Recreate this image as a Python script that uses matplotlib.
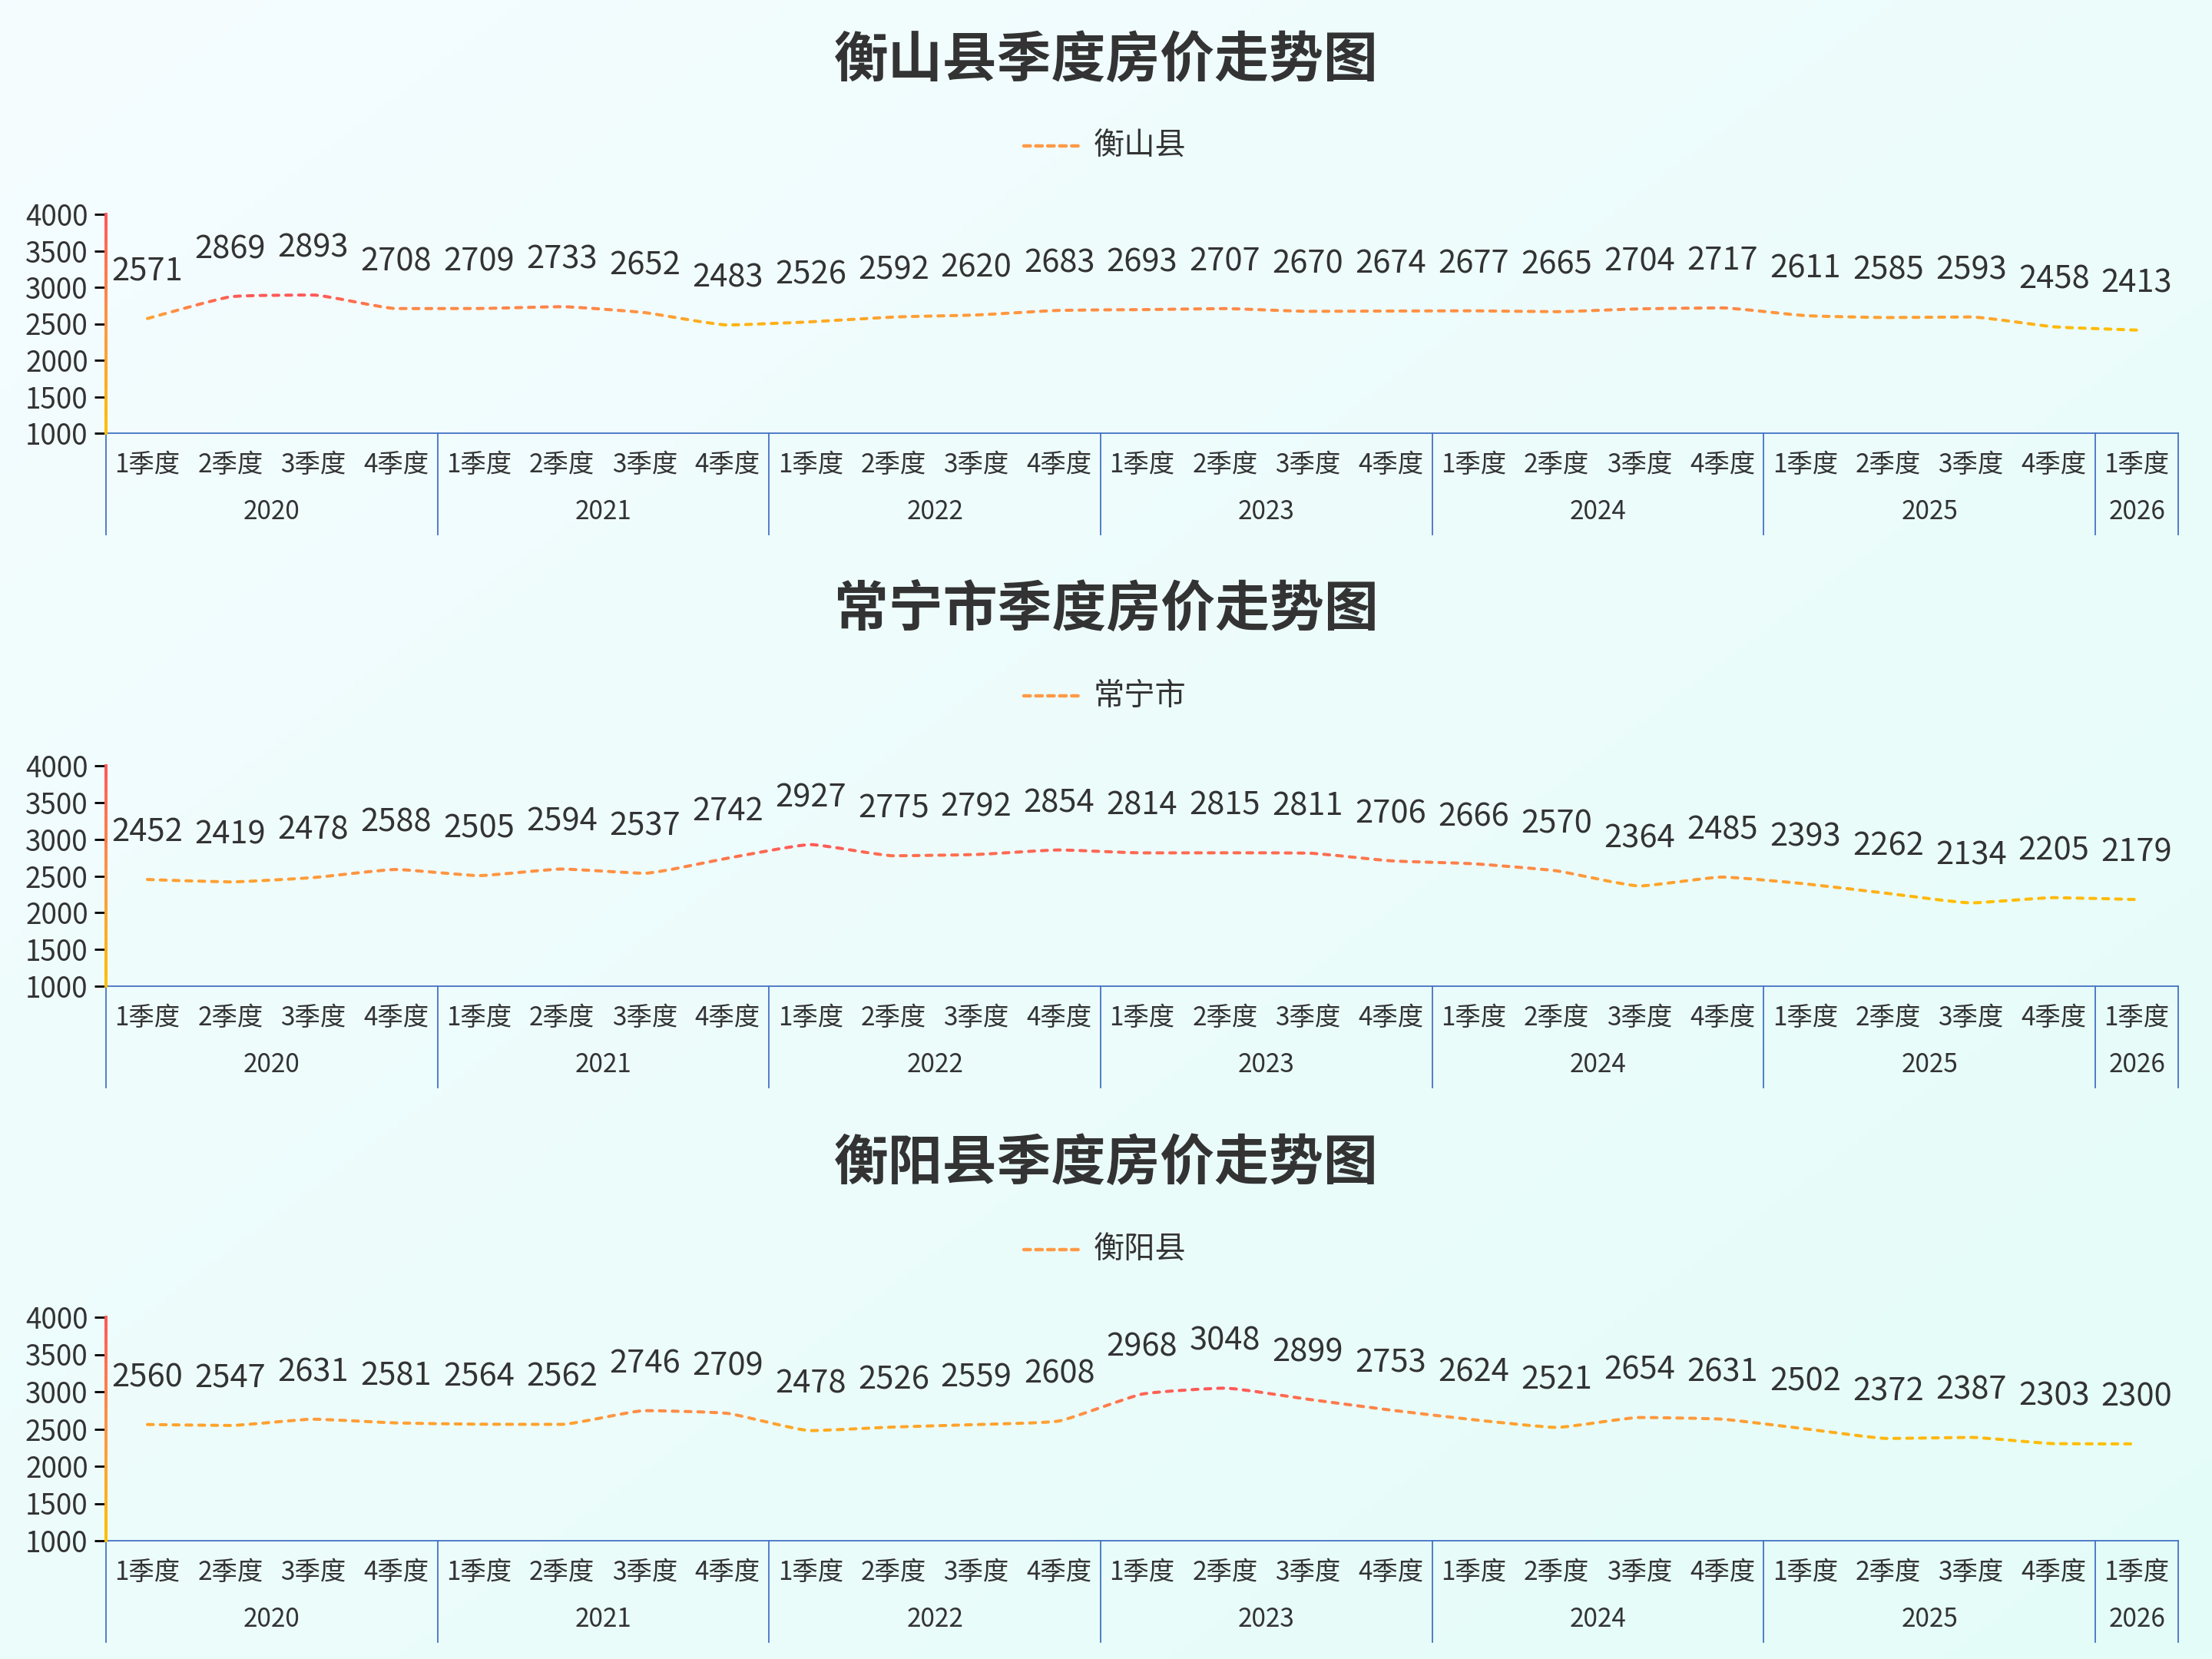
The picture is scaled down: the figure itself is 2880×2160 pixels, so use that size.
import numpy as np
import matplotlib
matplotlib.use("Agg")
import matplotlib.pyplot as plt
from matplotlib.path import Path
from matplotlib.patches import PathPatch, Rectangle
from matplotlib.lines import Line2D
import matplotlib.transforms as mtransforms

plt.rcParams['font.family'] = ['Noto Sans CJK SC', 'DejaVu Sans']

# ---------------- data ----------------
years = ['2020', '2021', '2022', '2023', '2024', '2025', '2026']
quarters_per_year = [4, 4, 4, 4, 4, 4, 1]
quarter_names = ['1季度', '2季度', '3季度', '4季度']

titles = ['衡山县季度房价走势图', '常宁市季度房价走势图', '衡阳县季度房价走势图']
series_names = ['衡山县', '常宁市', '衡阳县']

hengshan = [2571, 2869, 2893, 2708, 2709, 2733, 2652, 2483, 2526, 2592, 2620, 2683,
            2693, 2707, 2670, 2674, 2677, 2665, 2704, 2717, 2611, 2585, 2593, 2458, 2413]
changning = [2452, 2419, 2478, 2588, 2505, 2594, 2537, 2742, 2927, 2775, 2792, 2854,
             2814, 2815, 2811, 2706, 2666, 2570, 2364, 2485, 2393, 2262, 2134, 2205, 2179]
hengyang = [2560, 2547, 2631, 2581, 2564, 2562, 2746, 2709, 2478, 2526, 2559, 2608,
            2968, 3048, 2899, 2753, 2624, 2521, 2654, 2631, 2502, 2372, 2387, 2303, 2300]
all_series = [hengshan, changning, hengyang]

y_min, y_max, y_step = 1000, 4000, 500

# ---------------- style ----------------
TEXT = '#333333'
BLUE = '#4472C4'
C_TOP = np.array([255, 88, 88]) / 255.0
C_MID = np.array([255, 150, 66]) / 255.0
C_BOT = np.array([255, 192, 0]) / 255.0
SMOOTH = 0.15


def grad_color(t):
    """t = 0 at top, 1 at bottom"""
    t = min(max(t, 0.0), 1.0)
    if t < 0.5:
        u = t / 0.5
        return tuple(float(c) for c in C_TOP * (1 - u) + C_MID * u)
    u = (t - 0.5) / 0.5
    return tuple(float(c) for c in C_MID * (1 - u) + C_BOT * u)


W, H = 2880, 2160
fig = plt.figure(figsize=(W / 100, H / 100), dpi=100)

# background gradient
bg = fig.add_axes([0, 0, 1, 1], zorder=-10)
gx, gy = np.meshgrid(np.linspace(0, 1, 200), np.linspace(0, 1, 200))
tt = (gx + gy) / 2
c0 = np.array([245, 252, 255]) / 255.0
c1 = np.array([228, 253, 248]) / 255.0
img = c0[None, None, :] * (1 - tt[..., None]) + c1[None, None, :] * tt[..., None]
bg.imshow(img, aspect='auto', extent=[0, 1, 0, 1], origin='upper')
bg.set_axis_off()

categories = []
for yr, n in zip(years, quarters_per_year):
    for q in range(n):
        categories.append((yr, quarter_names[q]))
n_cat = len(categories)

left_px, right_px = 138, 2836
panel_tops = [279, 997, 1715]
panel_bots = [564, 1284, 2006]
title_y = [79, 795, 1515]
legend_y = [190, 906, 1627]


def smooth_path(px, py, smooth):
    """ECharts-like smooth bezier through display points."""
    n = len(px)
    verts = [(px[0], py[0])]
    codes = [Path.MOVETO]
    cpx0, cpy0 = px[0], py[0]
    for i in range(1, n):
        x, y = px[i], py[i]
        prevX, prevY = px[i - 1], py[i - 1]
        dx, dy = x - prevX, y - prevY
        if i < n - 1:
            nextX, nextY = px[i + 1], py[i + 1]
            vx, vy = nextX - prevX, nextY - prevY
            lenPrev = np.hypot(dx, dy)
            lenNext = np.hypot(x - nextX, y - nextY)
            ratio = lenNext / (lenNext + lenPrev)
            ncx = x + vx * smooth * ratio
            ncy = y + vy * smooth * ratio
            ncx = min(ncx, max(nextX, x)); ncy = min(ncy, max(nextY, y))
            ncx = max(ncx, min(nextX, x)); ncy = max(ncy, min(nextY, y))
            vx, vy = ncx - x, ncy - y
            cpx1 = x - vx * lenPrev / lenNext
            cpy1 = y - vy * lenPrev / lenNext
            cpx1 = min(cpx1, max(prevX, x)); cpy1 = min(cpy1, max(prevY, y))
            cpx1 = max(cpx1, min(prevX, x)); cpy1 = max(cpy1, min(prevY, y))
            vx, vy = x - cpx1, y - cpy1
            ncx = x + vx * lenNext / lenPrev
            ncy = y + vy * lenNext / lenPrev
        else:
            cpx1, cpy1 = x, y
            ncx, ncy = x, y
        verts += [(cpx0, cpy0), (cpx1, cpy1), (x, y)]
        codes += [Path.CURVE4, Path.CURVE4, Path.CURVE4]
        cpx0, cpy0 = ncx, ncy
    return np.array(verts), codes


for p in range(3):
    vals = all_series[p]
    ax = fig.add_axes([left_px / W, 1 - panel_bots[p] / H,
                       (right_px - left_px) / W, (panel_bots[p] - panel_tops[p]) / H])
    ax.set_facecolor('none')
    ax.set_xlim(-0.5, n_cat - 0.5)
    ax.set_ylim(y_min, y_max)
    for s in ['top', 'right', 'left']:
        ax.spines[s].set_visible(False)
    ax.spines['bottom'].set_color(BLUE)
    ax.spines['bottom'].set_linewidth(1.3)
    ax.set_xticks([])
    yt = list(range(y_min, y_max + 1, y_step))
    ax.set_yticks(yt)
    ax.set_yticklabels([str(v) for v in yt])
    ax.tick_params(axis='y', length=10.8, width=2.0, pad=6, labelsize=26.5,
                   labelcolor=TEXT)
    for tick, v in zip(ax.yaxis.get_major_ticks(), yt):
        tick.tick1line.set_color(grad_color((y_max - v) / (y_max - y_min)))

    # gradient y axis line (stacked short pieces)
    ys = np.linspace(y_min, y_max, 61)
    for k in range(len(ys) - 1):
        c = grad_color((y_max - (ys[k] + ys[k + 1]) / 2) / (y_max - y_min))
        ax.add_line(Line2D([-0.5, -0.5], [ys[k], ys[k + 1]], color=c,
                           linewidth=2.8, solid_capstyle='projecting',
                           clip_on=False, zorder=5))

    # smooth dashed gradient line
    xs = np.arange(n_cat)
    disp = ax.transData.transform(np.column_stack([xs, vals]))
    verts_d, codes = smooth_path(disp[:, 0], disp[:, 1], SMOOTH)
    verts = ax.transData.inverted().transform(verts_d)
    path = Path(verts, codes)
    vmin, vmax = min(vals), max(vals)
    nb = 48
    edges = np.linspace(vmin, vmax, nb + 1)
    for b in range(nb):
        lo, hi = edges[b], edges[b + 1]
        if b == 0:
            lo = y_min - 500
        if b == nb - 1:
            hi = y_max + 500
        t = 1 - ((edges[b] + edges[b + 1]) / 2 - vmin) / (vmax - vmin)
        patch = PathPatch(path, facecolor='none', edgecolor=grad_color(t),
                          linewidth=2.9, linestyle=(0, (1.9, 2.25)), zorder=4)
        patch.set_capstyle('round')
        ax.add_patch(patch)
        rect = Rectangle((-1, lo), n_cat + 2, hi - lo, transform=ax.transData)
        patch.set_clip_path(rect)

    # data labels
    for i, v in enumerate(vals):
        ax.annotate(str(v), xy=(i, v), xytext=(0, 44), textcoords='offset points',
                    ha='center', va='center', fontsize=30, color=TEXT,
                    annotation_clip=False)

    # category labels
    blend = mtransforms.blended_transform_factory(ax.transData, ax.transAxes)
    for i, (yr, qn) in enumerate(categories):
        ax.annotate(qn, xy=(i, 0), xycoords=blend, xytext=(0, -30),
                    textcoords='offset points', ha='center', va='center',
                    fontsize=24, color=TEXT, annotation_clip=False)
    # year labels & separators
    start = 0
    sep_len = 132 / (panel_bots[p] - panel_tops[p])
    bounds = [-0.5]
    for yr, n in zip(years, quarters_per_year):
        center = start + (n - 1) / 2
        ax.annotate(yr, xy=(center, 0), xycoords=blend, xytext=(0, -74),
                    textcoords='offset points', ha='center', va='center',
                    fontsize=24, color=TEXT, annotation_clip=False)
        start += n
        bounds.append(start - 0.5)
    for bx in bounds:
        ax.add_line(Line2D([bx, bx], [0, -sep_len], transform=blend, color=BLUE,
                           linewidth=1.3, clip_on=False))

    # title
    fig.text(0.5, 1 - title_y[p] / H, titles[p], ha='center', va='center',
             fontsize=51, fontweight='bold', color=TEXT)
    # legend
    ly = 1 - legend_y[p] / H
    fig.add_artist(Line2D([1333 / W, 1406 / W], [ly, ly], color='#FF9A45',
                          linewidth=3.2, linestyle=(0, (1.9, 1.6)),
                          solid_capstyle='round', dash_capstyle='round'))
    fig.text(1424 / W, ly, series_names[p], ha='left', va='center',
             fontsize=29, color=TEXT)

fig.savefig('out.png', dpi=100)
